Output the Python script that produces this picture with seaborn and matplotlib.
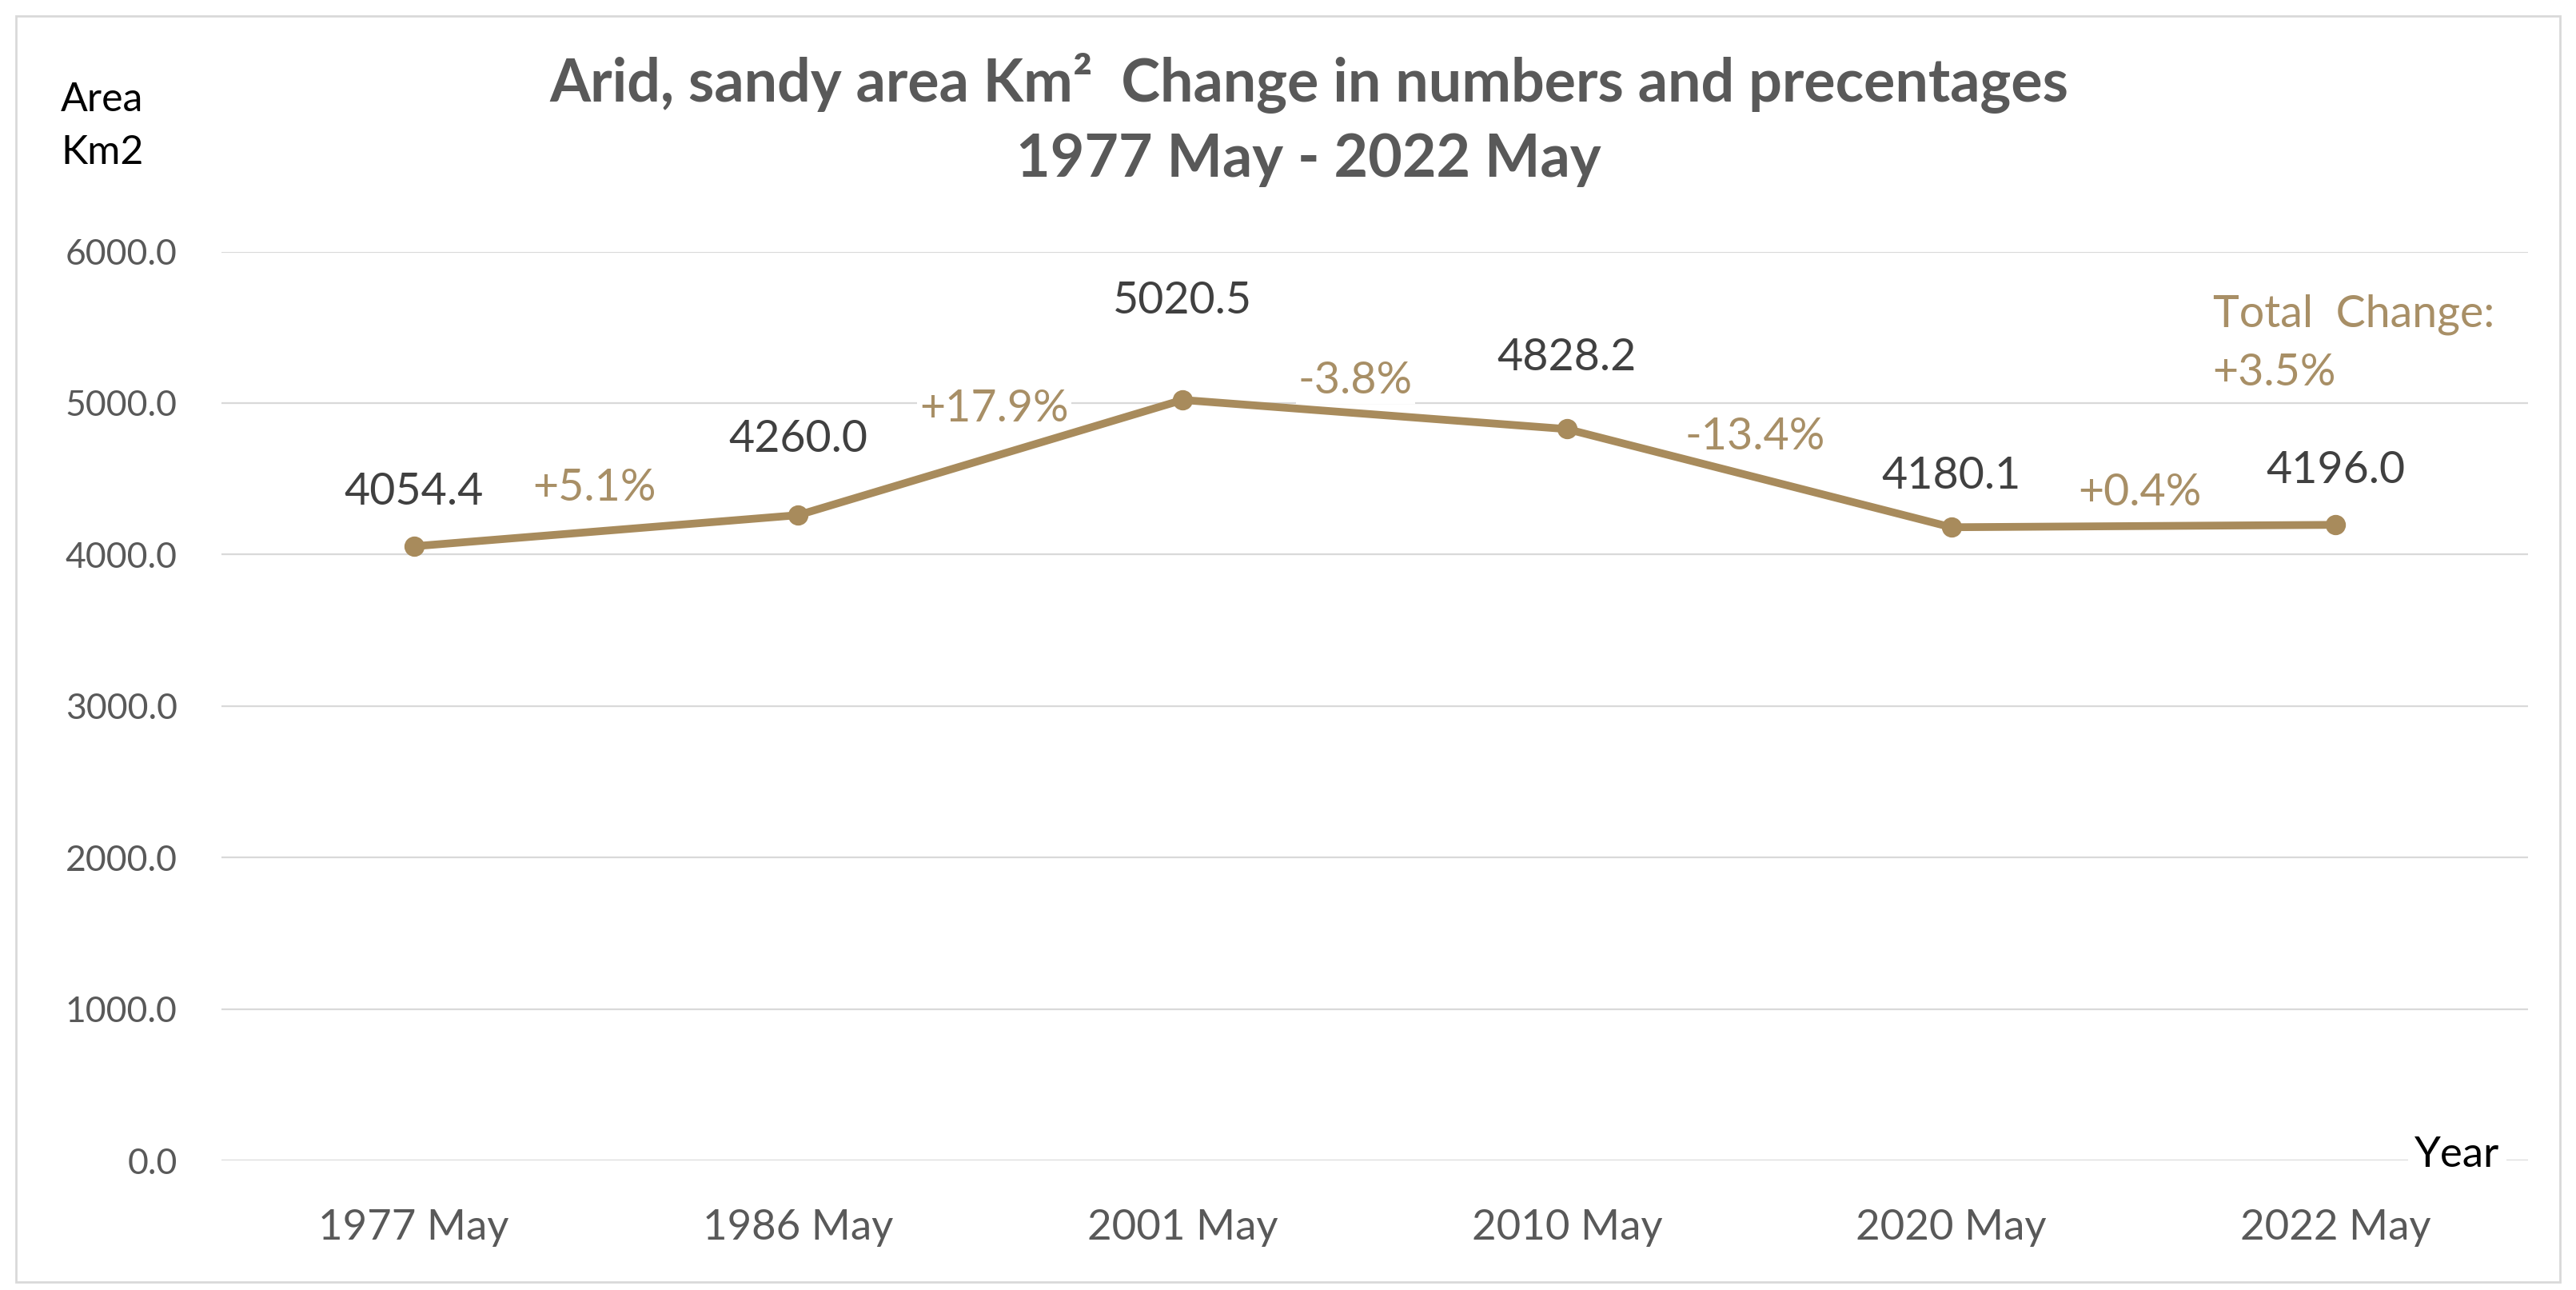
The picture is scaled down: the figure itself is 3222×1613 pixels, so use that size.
import matplotlib
matplotlib.use('Agg')

import numpy as np
import pandas as pd
import matplotlib.pyplot as plt
import matplotlib.patches as patches
import seaborn as sns

# -----------------------------------------------------------------------
# data
# -----------------------------------------------------------------------
periods = ['1977 May', '1986 May', '2001 May', '2010 May', '2020 May', '2022 May']
areas = [4054.4, 4260.0, 5020.5, 4828.2, 4180.1, 4196.0]
changes = ['+5.1%', '+17.9%', '-3.8%', '-13.4%', '+0.4%']
total_change = '+3.5%'
yticks = [0, 1000, 2000, 3000, 4000, 5000, 6000]

# label placement (layout only)
value_offsets = [49, 68, 89, 64, 46, 49]          # points above each marker
change_pos = [(0.47, 4437), (1.51, 4958), (2.45, 5143), (3.49, 4774), (4.49, 4405)]

LINE = '#a88b5c'
TXT_TAN = '#a88f66'
GREY = '#595959'

sns.set_theme(style='white')
plt.rcParams['font.family'] = ['Lato', 'DejaVu Sans']

df = pd.DataFrame({'Period': periods, 'Area': areas})

fig = plt.figure(figsize=(32.23, 16.13), dpi=100)
ax = fig.add_axes([0.086, 0.1004, 0.895, 0.7046])

sns.pointplot(data=df, x='Period', y='Area', order=periods, color=LINE,
              markers='o', markersize=13, linewidth=7, ax=ax, zorder=3)

ax.set_ylim(0, 6000)
ax.set_xlim(-0.5, len(periods) - 0.5)
ax.set_yticks(yticks)
ax.set_yticklabels(['%.1f' % v for v in yticks])
ax.yaxis.grid(True, color='#d9d9d9', linewidth=1.6)
ax.xaxis.grid(False)
for s in ax.spines.values():
    s.set_visible(False)
ax.tick_params(axis='both', length=0, colors=GREY)
ax.tick_params(axis='y', pad=40, labelsize=32)
ax.tick_params(axis='x', pad=44, labelsize=38)
ax.set_xlabel('')
ax.set_ylabel('')

# value labels above markers
for i, (v, off) in enumerate(zip(areas, value_offsets)):
    ax.annotate('%.1f' % v, (i, v), xytext=(0, off), textcoords='offset points',
                ha='center', va='center', fontsize=40, color='#404040', zorder=5)

# percentage change labels (kept under the line, over the gridlines)
for txt, (px, py) in zip(changes, change_pos):
    ax.text(px, py, txt, ha='center', va='center', fontsize=40, color=TXT_TAN,
            zorder=2.5, bbox=dict(facecolor='white', edgecolor='none', pad=2))

ax.text(4.68, 5392, 'Total  Change:\n' + total_change, ha='left', va='center',
        fontsize=40, color=TXT_TAN, linespacing=1.55, zorder=5,
        bbox=dict(facecolor='white', edgecolor='none', pad=4))

ax.text(0.951, 0.006, 'Year', transform=ax.transAxes, ha='left', va='center',
        fontsize=38, color='black', zorder=5,
        bbox=dict(facecolor='white', edgecolor='none', pad=6))

# title and axis caption
fig.text(0.508, 0.907, 'Arid, sandy area Km\u00b2  Change in numbers and precentages\n1977 May - 2022 May',
         ha='center', va='center', fontsize=53, fontweight='bold', color=GREY,
         linespacing=1.4)
fig.text(0.0236, 0.902, 'Area\nKm2', ha='left', va='center', fontsize=36,
         color='black', linespacing=1.55)

# light frame around the whole chart
fig.patches.append(patches.Rectangle((20 / 3223, 10 / 1613), 3182 / 3223, 1583 / 1613,
                                     transform=fig.transFigure, fill=False,
                                     edgecolor='#d9d9d9', linewidth=2))

fig.savefig('out.png', dpi=100, facecolor='white')
